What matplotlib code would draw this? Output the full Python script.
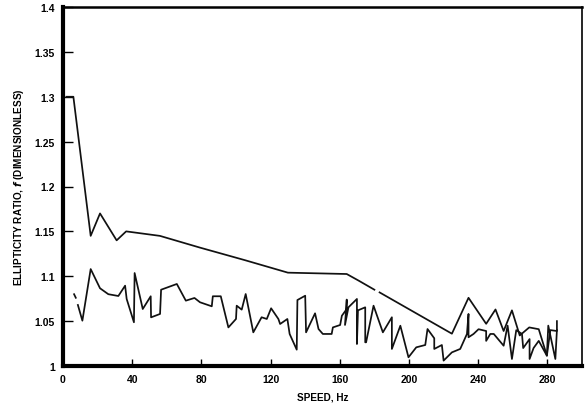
import numpy as np
import matplotlib
matplotlib.use("Agg")
import matplotlib.pyplot as plt

# upper curve (gap near 181 Hz as in the original print)
upper_x = [2, 6, 16, 21.4, 31, 36.5, 56, 79, 105, 130, 164, 171, 180,
           np.nan, 183, 224.8, 234.4, 244.6, 250, 254.7, 259.5, 264,
           269.5, 275, 279.7, 281.7, 285.5, 285.5]
upper_y = [1.300, 1.300, 1.145, 1.170, 1.140, 1.150, 1.145, 1.132, 1.118,
           1.104, 1.1025, 1.095, 1.085, np.nan, 1.082, 1.036, 1.076, 1.047,
           1.063, 1.039, 1.062, 1.034, 1.043, 1.041, 1.0115, 1.040, 1.039,
           1.050]

# lower (noisy) curve
lower_x = [6.4, 7.4, np.nan, 8.6, 11.2, 16, 21.4, 26.2, 32, 35.9, 36.8, 41,
           41.4, 46.1, 50.7, 50.9, 56.1, 56.7, 65.8, 71, 76, 79.2, 86, 86.6,
           91.2, 95.6, 100, 100.4, 103.3, 105.6, 110, 114.8, 117.8, 120.3,
           124.5, 125.5, 129.7, 131, 135.1, 135.5, 140, 140.5, 145.7, 147.7,
           150.2, 155.3, 156, 160.2, 161.2, 164, 164, 163, 165, 169.9, 169.9,
           170.5, 174.7, 174.7, 175.2, 179.5, 184.9, 190.1, 190.1, 195,
           199.7, 204.2, 209.4, 210.7, 214.6, 214.6, 219, 220, 224.8, 229.6,
           233.5, 234.4, 234.4, 237.3, 240.2, 244.6, 244.6, 247, 249, 254.7,
           257, 259.5, 262, 265.3, 266, 269.7, 269.7, 272, 275, 279.7, 280.5,
           284.6, 285.5]
lower_y = [1.080, 1.076, np.nan, 1.068, 1.0505, 1.108, 1.0866, 1.080, 1.078,
           1.0895, 1.0747, 1.0487, 1.1036, 1.0635, 1.0777, 1.0542, 1.058,
           1.085, 1.0914, 1.0728, 1.0758, 1.071, 1.0665, 1.0777, 1.0777,
           1.043, 1.0524, 1.0672, 1.0628, 1.0802, 1.0375, 1.0543, 1.0524,
           1.0643, 1.0524, 1.0468, 1.0524, 1.0357, 1.0182, 1.0735, 1.0783,
           1.0375, 1.0587, 1.0412, 1.0357, 1.0357, 1.043, 1.0457, 1.056,
           1.0635, 1.074, 1.0457, 1.0654, 1.0747, 1.0245, 1.062, 1.0654,
           1.0264, 1.0264, 1.0672, 1.0375, 1.0543, 1.019, 1.0449, 1.0097,
           1.0208, 1.0234, 1.0412, 1.0309, 1.019, 1.0234, 1.006, 1.0152,
           1.019, 1.0357, 1.058, 1.032, 1.0357, 1.041, 1.039, 1.028, 1.0357,
           1.0357, 1.0226, 1.045, 1.0078, 1.040, 1.0357, 1.020, 1.030,
           1.0078, 1.020, 1.028, 1.0115, 1.045, 1.0078, 1.040]

x_ticks = [0, 40, 80, 120, 160, 200, 240, 280]
y_ticks = [1, 1.05, 1.1, 1.15, 1.2, 1.25, 1.3, 1.35, 1.4]
y_labels = ["1", "1.05", "1.1", "1.15", "1.2", "1.25", "1.3", "1.35", "1.4"]

plt.rcParams['font.family'] = ['Liberation Sans', 'DejaVu Sans']
plt.rcParams['font.weight'] = 'bold'

fig = plt.figure(figsize=(5.85, 4.06), dpi=100)
ax = fig.add_axes([63 / 585, 1 - 367 / 406, (582 - 63) / 585, (367 - 8) / 406])

ax.plot(upper_x, upper_y, '-', color='#111111', lw=1.25)
ax.plot(lower_x, lower_y, '-', color='#111111', lw=1.25)

ax.set_xlim(0, 300)
ax.set_ylim(1, 1.4)
ax.set_xticks(x_ticks)
ax.set_xticklabels([str(t) for t in x_ticks], fontsize=7.5, fontweight='bold')
ax.set_yticks(y_ticks)
ax.set_yticklabels(y_labels, fontsize=7.5, fontweight='bold')
ax.tick_params(axis='y', direction='in', length=7, width=1, pad=6)
ax.tick_params(axis='x', direction='in', length=5, width=1, pad=6)

ax.spines['left'].set_linewidth(3)
ax.spines['bottom'].set_linewidth(3)
ax.spines['top'].set_linewidth(1.8)
ax.spines['right'].set_linewidth(1.2)

ax.set_xlabel('SPEED, Hz', fontsize=7.2, fontweight='bold', labelpad=5)
ax.set_ylabel(r'ELLIPTICITY RATIO, $\mathit{f}$ (DIMENSIONLESS)',
              fontsize=7.2, fontweight='bold', labelpad=6)

fig.savefig('out.png', dpi=100)
